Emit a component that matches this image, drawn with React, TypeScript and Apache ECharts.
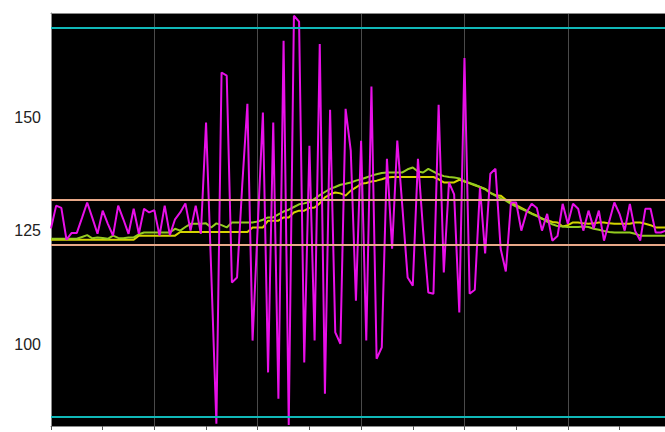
import React, { useEffect, useRef } from "react";
import * as echarts from "echarts";

// sample index is the x position (10 samples per tick)
const magenta = [
  125.5, 130.5, 130, 123, 124.5, 124.5, 127.8, 131.2, 127.8, 124.3,
  129.4, 126.5, 123.9, 130.5, 127.5, 124.3, 129.8, 124.3, 129.8, 129,
  129.5, 123.9, 130.5, 124, 127.5, 129, 131, 125, 130.5, 124.3,
  148.8, 116, 82.5, 159.8, 159.1, 113.6, 114.7, 135, 152.9, 100.8,
  126, 151, 93.8, 148.8, 88, 166.8, 82.2, 172.3, 171, 96,
  143.7, 100.8, 166.1, 89.1, 151.6, 102.6, 100.1, 151.8, 142.6, 109.6,
  144.8, 100.8, 156.7, 96.8, 99.3, 140.8, 121, 144.8, 130, 114.7,
  112.9, 140.8, 125, 111.4, 111.1, 152.7, 115.8, 135.6, 133, 107,
  163, 111.1, 112, 134.5, 120, 137.5, 138.6, 121, 116, 131.2,
  131.2, 125, 129, 130.9, 130, 125, 128.7, 122.8, 123.8, 130.9,
  126.5, 130.9, 129.8, 125, 129.4, 125.5, 129.4, 122.8, 127, 131.2,
  128.7, 125, 130.9, 125, 122.8, 129.8, 129.8, 124.6, 124.6, 125,
];

const yellow = [
  123, 123, 123, 123, 123, 123, 123, 123, 123, 123,
  123, 123, 123, 123, 123, 123, 123, 123.9, 123.9, 123.9,
  123.9, 123.9, 123.9, 123.9, 123.9, 124.7, 124.7, 124.7, 124.7, 124.7,
  124.7, 124.7, 124.7, 124.7, 124.7, 124.7, 124.7, 124.7, 124.7, 125.7,
  125.7, 125.7, 127.2, 127.2, 127.2, 127.9, 127.9, 129.0, 129.4, 129.4,
  130.0, 130.1, 131.0, 132.3, 133.0, 133.4, 133.2, 132.7, 133.8, 134.5,
  135.3, 135.5, 135.8, 136.0, 136.3, 136.7, 136.8, 136.8, 136.8, 136.8,
  136.8, 136.8, 136.8, 136.8, 136.8, 136.3, 135.6, 135.6, 135.6, 136.2,
  135.8, 135.4, 135.0, 134.6, 134.2, 133.3, 132.8, 132.7, 131.8, 131.2,
  130.6, 130.0, 129.4, 128.8, 128.3, 127.6, 127.3, 126.9, 126.8, 125.9,
  126.2, 126.8, 126.8, 126.6, 126.5, 126.6, 126.8, 126.8, 126.6, 126.5,
  126.5, 126.5, 126.5, 126.8, 126.8, 126.5, 126.2, 125.7, 125.7, 125.7,
];

const green = [
  123.2, 123.2, 123.2, 123.2, 123.2, 123.2, 123.6, 124.0, 123.3, 123.5,
  123.4, 123.2, 123.9, 123.4, 123.3, 123.5, 123.5, 124.2, 124.6, 124.6,
  124.6, 124.6, 124.6, 124.6, 125.4, 125.0, 125.8, 126.5, 126.5, 126.5,
  126.6, 125.7, 126.6, 126.2, 125.7, 126.8, 126.8, 126.8, 126.8, 126.8,
  127.0, 127.4, 127.9, 127.9, 128.6, 129.2, 129.6, 130.2, 130.8, 131.0,
  131.3, 132.0, 132.8, 133.5, 134.2, 134.6, 135.1, 135.3, 135.6, 136.0,
  136.3, 136.7, 137.1, 137.4, 137.7, 137.8, 137.8, 137.8, 137.8, 138.5,
  138.9, 138.0, 137.8, 138.6, 138.0, 137.4, 137.0, 136.8, 136.7, 136.5,
  135.9, 135.5, 135.1, 134.6, 134.1, 133.3, 132.7, 132.1, 131.6, 130.9,
  130.3, 129.8, 129.3, 128.7, 128.2, 127.7, 127.0, 126.4, 126.0, 125.9,
  125.8, 125.8, 125.8, 125.9, 125.8, 125.4, 125.2, 124.9, 124.7, 124.6,
  124.6, 124.6, 124.6, 124.3, 123.9, 123.9, 123.9, 123.9, 123.9, 123.9,
];

const outerLimits = [169.65, 83.97];
const innerLimits = [131.74, 121.83];
const yTickLabels = [100, 125, 150];

export default function App() {
  const ref = useRef<HTMLDivElement>(null);
  useEffect(() => {
    const chart = echarts.init(ref.current!, null, { renderer: "svg" });
    const toPts = (arr: number[]) => arr.map((v, i) => [i, v]);
    chart.setOption({
      animation: false,
      backgroundColor: "#ffffff",
      grid: {
        left: 51,
        right: 0,
        top: 13,
        bottom: 6,
        show: true,
        backgroundColor: "#000000",
        borderWidth: 0,
      },
      xAxis: [
        {
          type: "value",
          min: 0,
          max: 118.8,
          interval: 20,
          axisLine: { show: true, lineStyle: { color: "#8a8a8a", width: 1 } },
          axisTick: { show: true, inside: false, length: 4, lineStyle: { color: "#555", width: 1 } },
          minorTick: { show: true, splitNumber: 2, length: 4, lineStyle: { color: "#555", width: 1 } },
          axisLabel: { show: false },
          splitLine: { show: true, lineStyle: { color: "#4a4a4a", width: 1 } },
        },
        {
          type: "value",
          position: "top",
          min: 0,
          max: 118.8,
          axisLine: { show: true, lineStyle: { color: "#8a8a8a", width: 1 } },
          axisTick: { show: false },
          axisLabel: { show: false },
          splitLine: { show: false },
        },
      ],
      yAxis: {
        type: "value",
        min: 82,
        max: 172.9,
        axisLine: { show: true, lineStyle: { color: "#8a8a8a", width: 1 } },
        axisTick: { show: false },
        splitLine: { show: false },
        axisLabel: {
          show: true,
          customValues: yTickLabels,
          color: "#222",
          fontSize: 16,
          fontFamily: "Liberation Sans, Arial, sans-serif",
          margin: 10,
        },
      },
      series: [
        {
          type: "line",
          data: toPts(yellow),
          symbol: "none",
          lineStyle: { color: "#d4d400", width: 2 },
          markLine: {
            silent: true,
            symbol: "none",
            label: { show: false },
            data: [
              ...outerLimits.map((v) => ({ yAxis: v, lineStyle: { color: "#10b8b8", width: 2, type: "solid" } })),
              ...innerLimits.map((v) => ({ yAxis: v, lineStyle: { color: "#e8a888", width: 2, type: "solid" } })),
            ],
          },
        },
        {
          type: "line",
          data: toPts(green),
          symbol: "none",
          lineStyle: { color: "#94cc20", width: 2 },
        },
        {
          type: "line",
          data: toPts(magenta),
          symbol: "none",
          lineStyle: { color: "#e810e8", width: 2 },
        },
      ],
    });
    return () => chart.dispose();
  }, []);
  return (
    <div
      ref={ref}
      style={{ position: "fixed", left: 0, top: 0, width: 665, height: 432, background: "#fff" }}
    />
  );
}
